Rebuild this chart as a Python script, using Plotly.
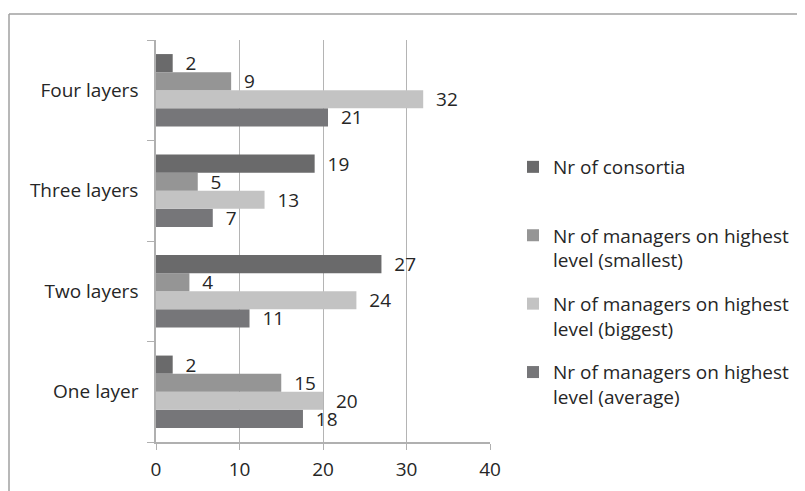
import plotly.graph_objects as go

categories = ["One layer", "Two layers", "Three layers", "Four layers"]

series_names = [
    "Nr of consortia",
    "Nr of managers on highest<br>level (smallest)",
    "Nr of managers on highest<br>level (biggest)",
    "Nr of managers on highest<br>level (average)",
]
consortia = [2, 27, 19, 2]
smallest = [15, 4, 5, 9]
biggest = [20, 24, 13, 32]
average = [17.6, 11.2, 6.8, 20.6]

colors = ["#6a6a6b", "#959595", "#c3c3c3", "#767679"]

FONT = "Open Sans"
FS = 19
TXT = "#262626"

# page body has an 8px margin, so the figure is sized and placed accordingly
W, H = 797, 483
L, R, T, B = 148, 482, 32, 434  # plot area in figure pixels
PW, PH = R - L, B - T


def px_x(x):
    return (x - L) / PW


def px_y(y):
    return (B - y) / PH


fig = go.Figure()
series_values = [consortia, smallest, biggest, average]
# plot bottom-to-top inside each group: average, biggest, smallest, consortia
for idx in [3, 2, 1, 0]:
    vals = series_values[idx]
    name = series_names[idx]
    if idx == 0:
        name = name + "<br>\u00a0"
    fig.add_trace(go.Bar(
        y=categories,
        x=vals,
        orientation="h",
        name=name,
        marker=dict(color=colors[idx], line=dict(width=0)),
        text=[str(int(v + 0.5)) for v in vals],
        texttemplate="\u00a0\u00a0%{text}",
        textposition="outside",
        constraintext="none",
        cliponaxis=False,
        textfont=dict(family=FONT, size=FS, color=TXT),
        legendgroup=str(idx),
        legendrank=idx,
    ))

fig.update_layout(
    width=W,
    height=H,
    margin=dict(l=L, r=W - R, t=T, b=H - B, autoexpand=False),
    paper_bgcolor="white",
    plot_bgcolor="white",
    barmode="group",
    bargap=0.28,
    bargroupgap=0,
    font=dict(family=FONT, size=FS, color=TXT),
    showlegend=True,
    legend=dict(
        traceorder="grouped",
        tracegroupgap=16,
        valign="top",
        x=px_x(505),
        xanchor="left",
        y=px_y(140),
        yanchor="top",
        font=dict(family=FONT, size=FS, color=TXT),
        bgcolor="rgba(0,0,0,0)",
    ),
    xaxis=dict(
        range=[0, 40],
        dtick=10,
        tick0=0,
        showgrid=True,
        gridcolor="#b4b4b4",
        gridwidth=1,
        showline=True,
        linecolor="#b0b0b0",
        linewidth=1.5,
        ticks="outside",
        ticklen=6,
        tickcolor="#b0b0b0",
        ticklabelstandoff=3,
        zeroline=False,
        tickfont=dict(family=FONT, size=FS, color=TXT),
    ),
    yaxis=dict(
        type="category",
        categoryorder="array",
        categoryarray=categories,
        tickson="boundaries",
        ticks="outside",
        ticklen=7,
        tickcolor="#b0b0b0",
        ticklabelstandoff=12,
        showline=True,
        linecolor="#b0b0b0",
        linewidth=1.5,
        showgrid=False,
        tickfont=dict(family=FONT, size=FS, color=TXT),
    ),
    shapes=[
        dict(type="line", xref="paper", yref="paper",
             x0=px_x(1), x1=px_x(W + 5),
             y0=px_y(6), y1=px_y(6),
             line=dict(color="#a0a0a0", width=1.5)),
        dict(type="line", xref="paper", yref="paper",
             x0=px_x(1), x1=px_x(1),
             y0=px_y(6), y1=px_y(H + 5),
             line=dict(color="#a0a0a0", width=1.5)),
    ],
)

fig.write_html("out.html")
